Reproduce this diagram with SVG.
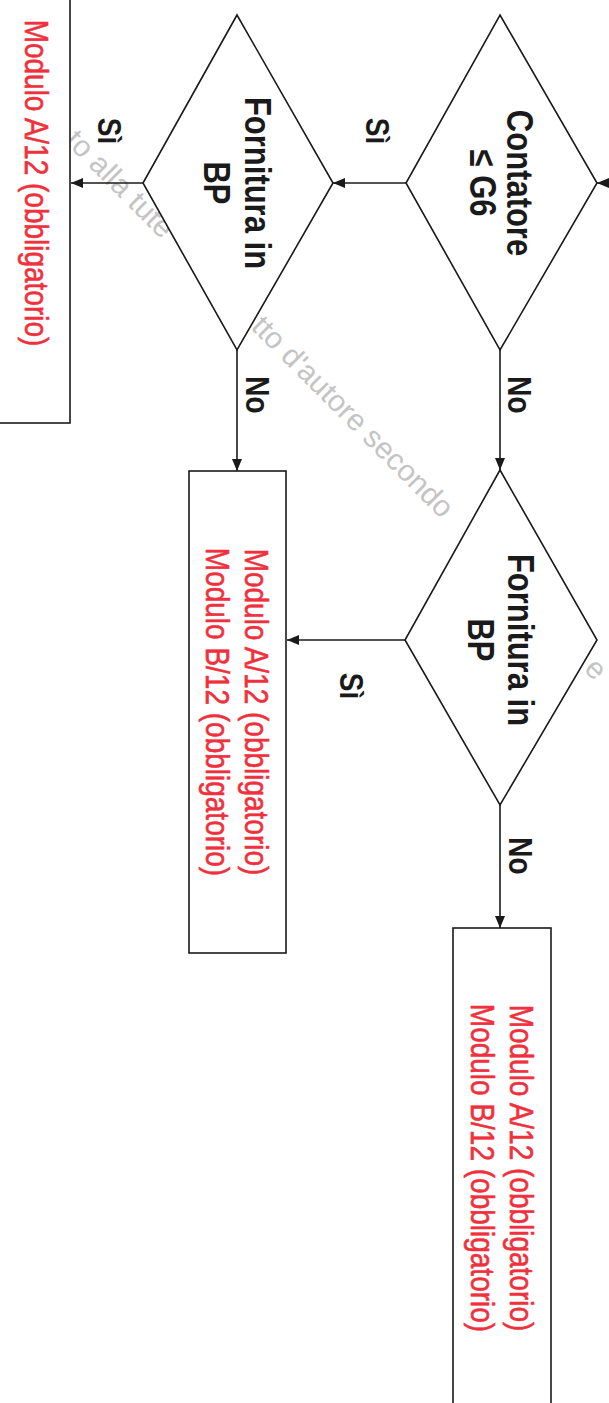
<svg xmlns="http://www.w3.org/2000/svg" width="609" height="1403" viewBox="0 0 609 1403">
<style>
.shape{fill:#fff;stroke:#1a1a1a;stroke-width:1.6}
.conn{stroke:#1a1a1a;stroke-width:1.6;fill:none}
.nt{font-family:"Liberation Sans",Arial,sans-serif;font-weight:bold;font-size:31px;fill:#1a1a1a;text-anchor:middle}
.lbl{font-family:"Liberation Sans",Arial,sans-serif;font-weight:bold;font-size:28px;fill:#1a1a1a;text-anchor:middle}
.red{font-family:"Liberation Sans",Arial,sans-serif;font-size:28px;fill:#f0303c;stroke:#f0303c;stroke-width:0.5;text-anchor:middle}
.wm{font-family:"Liberation Sans",Arial,sans-serif;font-size:30px;fill:#c4c4c4}
</style>
<defs>
<marker id="ah" viewBox="0 0 12 10" refX="12" refY="5" markerWidth="12" markerHeight="10" markerUnits="userSpaceOnUse" orient="auto">
<path d="M0,0 L12,5 L0,10 z" fill="#1a1a1a"/>
</marker>
</defs>
<rect width="609" height="1403" fill="#fff"/>
<g id="watermark">
<text class="wm" transform="translate(64,142) rotate(45)">to alla tute</text>
<text class="wm" transform="translate(250,328) rotate(45)">tto d'autore secondo</text>
<text class="wm" font-size="26" transform="translate(583,670) rotate(45)">e</text>
</g>
<g id="connectors">
<line class="conn" x1="615" y1="183" x2="597" y2="183" marker-end="url(#ah)"/>
<line class="conn" x1="406" y1="183" x2="333" y2="183" marker-end="url(#ah)"/>
<line class="conn" x1="143" y1="183" x2="71" y2="183" marker-end="url(#ah)"/>
<line class="conn" x1="237" y1="350" x2="237" y2="471" marker-end="url(#ah)"/>
<line class="conn" x1="500" y1="350" x2="500" y2="470" marker-end="url(#ah)"/>
<line class="conn" x1="405" y1="640" x2="287" y2="640" marker-end="url(#ah)"/>
<line class="conn" x1="500" y1="805" x2="500" y2="928" marker-end="url(#ah)"/>
<text class="lbl" x="0" y="10" transform="translate(378,131) rotate(90) scale(1,1.18)">Sì</text>
<text class="lbl" x="0" y="10" transform="translate(110,131) rotate(90) scale(1,1.18)">Sì</text>
<text class="lbl" x="0" y="10" transform="translate(352,686) rotate(90) scale(1,1.18)">Sì</text>
<text class="lbl" x="0" y="10" transform="translate(258,395) rotate(90) scale(1,1.18)">No</text>
<text class="lbl" x="0" y="10" transform="translate(520,395) rotate(90) scale(1,1.18)">No</text>
<text class="lbl" x="0" y="10" transform="translate(521,856) rotate(90) scale(1,1.18)">No</text>
</g>
<g id="box-a12">
<rect class="shape" x="-5" y="-60" width="75" height="483"/>
<text class="red" x="0" y="10" transform="translate(37,183) rotate(90) scale(1,1.18)">Modulo A/12 (obbligatorio)</text>
</g>
<g id="dec-contatore">
<polygon class="shape" points="500,15 597,183 500,350 406,183"/>
<text class="nt" x="0" y="11" transform="translate(520,183) rotate(90) scale(1,1.18)">Contatore</text>
<text class="nt" x="0" y="11" transform="translate(483,183) rotate(90) scale(1,1.18)">≤ G6</text>
</g>
<g id="dec-bp-1">
<polygon class="shape" points="237,15 333,183 237,350 143,183"/>
<text class="nt" x="0" y="11" transform="translate(258,183) rotate(90) scale(1,1.18)">Fornitura in</text>
<text class="nt" x="0" y="11" transform="translate(217,183) rotate(90) scale(1,1.18)">BP</text>
</g>
<g id="dec-bp-2">
<polygon class="shape" points="500,470 597,640 500,805 405,640"/>
<text class="nt" x="0" y="11" transform="translate(521,640) rotate(90) scale(1,1.18)">Fornitura in</text>
<text class="nt" x="0" y="11" transform="translate(481,640) rotate(90) scale(1,1.18)">BP</text>
</g>
<g id="box-ab12-1">
<rect class="shape" x="189" y="471" width="97" height="482"/>
<text class="red" x="0" y="10" transform="translate(257,712) rotate(90) scale(1,1.18)">Modulo A/12 (obbligatorio)</text>
<text class="red" x="0" y="10" transform="translate(218,712) rotate(90) scale(1,1.18)">Modulo B/12 (obbligatorio)</text>
</g>
<g id="box-ab12-2">
<rect class="shape" x="453" y="928" width="98" height="490"/>
<text class="red" x="0" y="10" transform="translate(522,1168) rotate(90) scale(1,1.18)">Modulo A/12 (obbligatorio)</text>
<text class="red" x="0" y="10" transform="translate(483,1168) rotate(90) scale(1,1.18)">Modulo B/12 (obbligatorio)</text>
</g>
</svg>
